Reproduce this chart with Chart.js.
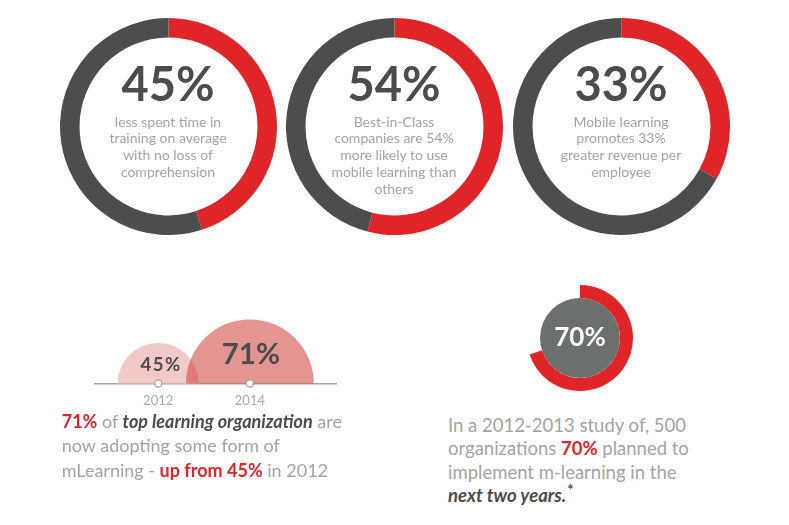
<!DOCTYPE html>
<html>
<head>
<meta charset="utf-8">
<script src="https://cdn.jsdelivr.net/npm/chart.js@4.4.0/dist/chart.umd.min.js"></script>
<style>
  html, body { margin: 0; padding: 0; background: #fff; }
  body { width: 789px; height: 525px; position: relative; overflow: hidden;
         font-family: Lato, "Open Sans", sans-serif; }
  .abs { position: absolute; }
  canvas { display: block; }
  .big { font-weight: 700; font-size: 47px; line-height: 47px; color: #4b4d4c;
         text-align: center; width: 200px; white-space: nowrap; }
  .sub { font-size: 14px; line-height: 16.8px; color: #a3a3a3; text-align: center;
         width: 200px; white-space: nowrap; }
  .inner { font-weight: 700; font-size: 26px; line-height: 26px; color: #fff;
           text-align: center; width: 100px; white-space: nowrap; }
  .para { font-size: 18px; color: #a3a3a3; white-space: nowrap; }
  .red { color: #df2527; font-weight: 700; }
  .dk { color: #4b4b4b; font-weight: 700; font-style: italic; }
  .dk sup { font-size: 15px; font-style: normal; line-height: 0; margin-left: 1px; }
</style>
</head>
<body>
<script>
// ---- data ----
const statValues = [45, 54, 33];
const statCaptions = [
  ['less spent time in', 'training on average', 'with no loss of', 'comprehension'],
  ['Best-in-Class', 'companies are 54%', 'more likely to use', 'mobile learning than', 'others'],
  ['Mobile learning', 'promotes 33%', 'greater revenue per', 'employee']
];
const adoptionYears = [2012, 2014];
const adoptionValues = [45, 71];
const plannedValue = 70;

// ---- style ----
const RED = '#df2527';
const DARK = '#4c4e4d';
const SLATE = '#6a706c';
const TEXT_DARK = '#4b4d4c';

const ringCentersX = [168, 394, 621];
const ringCenterY = 126;
const ringSize = 217;

function addEl(tag, cls, left, top, html) {
  const el = document.createElement(tag);
  el.className = 'abs ' + (cls || '');
  el.style.left = left + 'px';
  el.style.top = top + 'px';
  if (html !== undefined) el.innerHTML = html;
  document.body.appendChild(el);
  return el;
}

function makeCanvas(left, top, w, h) {
  const c = document.createElement('canvas');
  c.width = w; c.height = h;
  c.style.position = 'absolute';
  c.style.left = left + 'px';
  c.style.top = top + 'px';
  document.body.appendChild(c);
  return c;
}

const quiet = { legend: { display: false }, tooltip: { enabled: false } };

// ---- three headline rings ----
statValues.forEach((v, i) => {
  const cx = ringCentersX[i];
  const cv = makeCanvas(cx - ringSize / 2, ringCenterY - ringSize / 2, ringSize, ringSize);
  new Chart(cv, {
    type: 'doughnut',
    data: {
      labels: ['share', 'rest'],
      datasets: [{ data: [v, 100 - v], backgroundColor: [RED, DARK], borderWidth: 0 }]
    },
    options: { responsive: false, animation: false, events: [], cutout: '82%', plugins: quiet }
  });
  addEl('div', 'big', cx - 100, 59.5, v + '%');
  addEl('div', 'sub', cx - 100, 113.5, statCaptions[i].join('<br>'));
});

// ---- 2012 vs 2014 half bubbles ----
const BUBBLE_SCALE = 0.9;
const bubbleLabels = {
  id: 'bubbleLabels',
  afterDatasetsDraw(chart) {
    const ctx = chart.ctx;
    const meta = chart.getDatasetMeta(1);
    meta.data.forEach((el, i) => {
      const v = adoptionValues[i];
      const r = v * BUBBLE_SCALE;
      const fs = r * 0.46;
      ctx.save();
      ctx.fillStyle = TEXT_DARK;
      ctx.font = '700 ' + fs + 'px Lato, sans-serif';
      ctx.textAlign = 'center';
      ctx.textBaseline = 'alphabetic';
      if (i === 0) ctx.letterSpacing = '1.5px';
      ctx.fillText(v + '%', el.x + (i === 0 ? 3 : 1), el.y - 0.47 * r + 0.36 * fs);
      ctx.restore();
    });
  }
};

const bubbleCanvas = makeCanvas(94, 270, 243, 150);
const bubbleChart = new Chart(bubbleCanvas, {
  type: 'bubble',
  data: {
    datasets: [
      {
        data: adoptionYears.map(y => ({ x: y, y: 0, r: 3.6 })),
        backgroundColor: '#ffffff', borderColor: '#a3a3a3', borderWidth: 1.3,
        order: 0, clip: false
      },
      {
        data: adoptionYears.map((y, i) => ({ x: y, y: 0, r: adoptionValues[i] * BUBBLE_SCALE })),
        backgroundColor: ['#f2c9c6', 'rgba(205,62,56,0.55)'], borderWidth: 0,
        order: 1, clip: 0
      }
    ]
  },
  options: {
    responsive: false, animation: false, events: [],
    layout: { padding: 0, autoPadding: false },
    scales: {
      x: {
        type: 'linear', min: 2010.6, max: 2015.9,
        grid: { display: false, drawTicks: false },
        border: { color: '#a3a3a3', width: 1.5 },
        afterBuildTicks: s => { s.ticks = adoptionYears.map(v => ({ value: v })); },
        ticks: { padding: 10, color: '#ababab', font: { family: 'Lato', size: 13 },
                 callback: v => String(v) }
      },
      y: { display: false, min: 0, max: 1 }
    },
    plugins: quiet
  },
  plugins: [bubbleLabels]
});
bubbleCanvas.style.top = (383 - bubbleChart.chartArea.bottom) + 'px';

// ---- planned adoption ring ----
const smallCanvas = makeCanvas(580 - 53, 338 - 53, 106, 106);
new Chart(smallCanvas, {
  type: 'doughnut',
  data: {
    labels: ['planned', 'other'],
    datasets: [
      { data: [plannedValue, 100 - plannedValue], backgroundColor: [RED, 'rgba(0,0,0,0)'], borderWidth: 0, weight: 13 },
      { data: [100], backgroundColor: [SLATE], borderWidth: 0, weight: 40 }
    ]
  },
  options: { responsive: false, animation: false, events: [], cutout: 0, plugins: quiet }
});
addEl('div', 'inner', 580 - 50, 345.7 - 23, plannedValue + '%');

// ---- notes ----
addEl('div', 'para', 61.7, 408.8,
  '<span class="red">' + adoptionValues[1] + '%</span> of <span class="dk">top learning organization</span> are<br>' +
  'now adopting some form of<br>' +
  'mLearning - <span class="red">up from ' + adoptionValues[0] + '%</span> in 2012'
).style.lineHeight = '24.5px';

const rightNote = addEl('div', 'para', 448, 413.8,
  'In a 2012-2013 study of, 500<br>' +
  'organizations <span class="red">' + plannedValue + '%</span> planned to<br>' +
  'implement m-learning in the<br>' +
  '<span class="dk">next two years.<sup>*</sup></span>'
);
rightNote.style.lineHeight = '23.5px';
rightNote.style.fontSize = '18.5px';
</script>
</body>
</html>
